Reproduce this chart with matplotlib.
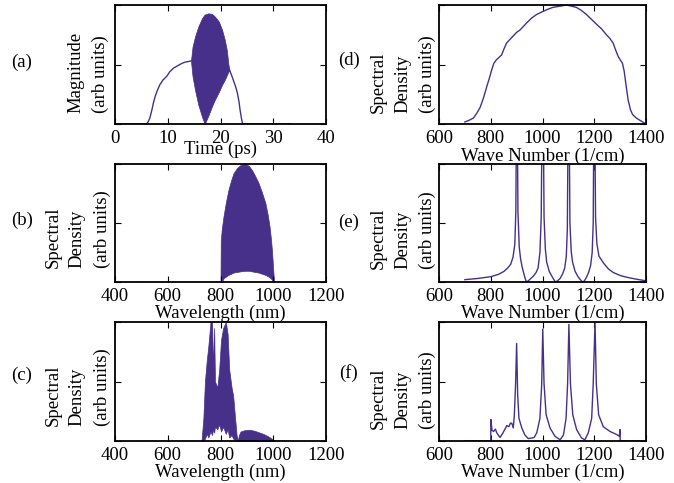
import numpy as np
import matplotlib
matplotlib.use("Agg")
from matplotlib import pyplot as plt

plt.rcParams['font.family'] = ['Liberation Serif', 'DejaVu Serif']
FS = 13.5
PURPLE = '#46308a'

# (a) temporal magnitude
a_t1 = [0, 6.0, 6.3, 6.6, 7.0, 7.3, 7.6, 8.0, 8.5, 9.1, 9.8, 10.4, 11.1, 11.9, 12.7, 13.3, 13.9, 14.4]
a_v1 = [0, 0, 0.02, 0.05, 0.12, 0.18, 0.23, 0.28, 0.33, 0.37, 0.40, 0.44, 0.47, 0.49, 0.51, 0.52, 0.525, 0.53]
a_tf = [14.4, 14.7, 15.2, 15.8, 16.5, 17.0, 17.7, 18.4, 19.0, 19.7, 20.3, 20.8, 21.2, 21.5, 21.7]
a_up = [0.53, 0.65, 0.74, 0.82, 0.89, 0.92, 0.93, 0.925, 0.90, 0.86, 0.79, 0.71, 0.62, 0.50, 0.455]
a_lo = [0.53, 0.40, 0.28, 0.16, 0.06, 0.0, 0.07, 0.15, 0.21, 0.27, 0.33, 0.37, 0.41, 0.44, 0.455]
a_t2 = [21.7, 22.1, 22.5, 22.9, 23.2, 23.5, 23.7, 24.0, 24.2, 33.3]
a_v2 = [0.455, 0.41, 0.36, 0.31, 0.26, 0.19, 0.12, 0.04, 0, 0]

# (b) input spectrum
b_base = [500, 1060]
b_wl = [800, 801, 805, 811, 820, 830, 840, 849, 862, 875, 894, 907, 919, 931, 944, 957, 970, 979, 986, 991, 995, 1000, 1003]
b_up = [0, 0.35, 0.45, 0.55, 0.67, 0.78, 0.86, 0.92, 0.965, 0.99, 1.0, 0.985, 0.95, 0.9, 0.84, 0.76, 0.67, 0.57, 0.47, 0.37, 0.27, 0.10, 0]
b_lo = [0, 0, 0, 0.03, 0.045, 0.06, 0.07, 0.08, 0.085, 0.09, 0.095, 0.095, 0.09, 0.085, 0.08, 0.07, 0.06, 0.05, 0.04, 0.03, 0.02, 0.0, 0]

# (c) output spectrum
c_base = [500, 1060]
c_wl = [728, 735, 741, 748, 754, 762, 768, 772, 776, 779, 788, 795, 802, 810, 820, 827, 833, 842, 848, 855, 861, 865]
c_up = [0, 0.19, 0.5, 0.68, 0.8, 1.0, 1.0, 0.6, 0.95, 0.5, 0.45, 0.6, 0.85, 0.95, 1.0, 0.9, 0.6, 0.45, 0.38, 0.2, 0.05, 0]
c_lo = [0, 0, 0.02, 0.06, 0.03, 0.08, 0.05, 0.1, 0.07, 0.12, 0.1, 0.14, 0.08, 0.12, 0.06, 0.1, 0.03, 0.05, 0.02, 0.01, 0, 0]
c_hwl = [865, 870, 876, 890, 911, 930, 962, 980, 994, 1006]
c_hv = [0, 0.05, 0.08, 0.09, 0.095, 0.085, 0.06, 0.04, 0.02, 0]

# (d) spectral density vs wave number
d_wn = [700, 715, 733, 746, 759, 772, 784, 794, 803, 812, 822, 832, 842, 851, 861, 874, 887, 900, 913,
        926, 939, 958, 977, 996, 1016, 1040, 1067, 1093, 1112, 1131, 1150, 1170, 1189, 1208, 1228,
        1247, 1260, 1273, 1283, 1292, 1300, 1309, 1316, 1322, 1331, 1340, 1348, 1360, 1370, 1385, 1400]
d_v = [0.017, 0.03, 0.05, 0.09, 0.14, 0.22, 0.31, 0.38, 0.45, 0.51, 0.54, 0.56, 0.58, 0.63, 0.68, 0.71, 0.74, 0.77, 0.79,
       0.82, 0.85, 0.89, 0.92, 0.94, 0.96, 0.98, 0.99, 1.0, 0.99, 0.98, 0.955, 0.92, 0.88, 0.84, 0.80,
       0.75, 0.72, 0.68, 0.62, 0.57, 0.54, 0.51, 0.44, 0.34, 0.2, 0.12, 0.08, 0.055, 0.04, 0.02, 0.0]

# (e) target Raman spectrum
e_wn = [700, 750, 800, 830, 851, 866, 877, 886, 893, 897, 901, 905, 910, 915, 922, 928, 933, 938,
        945, 955, 965, 975, 983, 990, 995, 1001, 1006, 1011, 1016, 1026, 1036, 1044, 1050,
        1058, 1068, 1078, 1086, 1092, 1096, 1101, 1106, 1111, 1116, 1126, 1136, 1146, 1155,
        1162, 1170, 1178, 1186, 1192, 1196, 1200, 1205, 1210, 1218, 1236, 1255, 1274, 1300,
        1326, 1360, 1400]
e_v = [0.02, 0.03, 0.045, 0.065, 0.09, 0.12, 0.15, 0.21, 0.32, 0.6, 2.0, 0.6, 0.3, 0.2, 0.12, 0.07, 0.03, 0.0,
       0.01, 0.03, 0.05, 0.08, 0.12, 0.25, 0.55, 2.0, 0.55, 0.28, 0.17, 0.09, 0.05, 0.02, 0.0,
       0.01, 0.03, 0.07, 0.12, 0.22, 0.45, 2.0, 0.5, 0.26, 0.17, 0.09, 0.05, 0.02, 0.0,
       0.01, 0.04, 0.08, 0.14, 0.25, 0.5, 2.0, 0.55, 0.33, 0.22, 0.16, 0.11, 0.08, 0.055,
       0.04, 0.025, 0.01]

# (f) retrieved Raman spectrum
f_wn = [700, 800, 800.5, 805, 811, 818, 823, 829, 836, 845, 855, 862, 870, 876, 881, 887, 891, 896,
        900, 904, 909, 920, 932, 945, 958, 968, 978, 990, 997, 1001, 1006, 1014, 1029, 1048,
        1068, 1081, 1091, 1097, 1102, 1108, 1117, 1132, 1151, 1164, 1177, 1190, 1196, 1203,
        1208, 1217, 1235, 1261, 1287, 1297, 1299.5, 1300.5, 1400]
f_v = [0, 0, 0.18, 0.09, 0.08, 0.1, 0.07, 0.05, 0.03, 0.06, 0.1, 0.13, 0.12, 0.15, 0.15, 0.11, 0.21, 0.48,
       0.82, 0.39, 0.19, 0.11, 0.05, 0.02, 0.025, 0.03, 0.07, 0.19, 0.48, 0.94, 0.48, 0.22, 0.11, 0.04,
       0.01, 0.05, 0.19, 0.48, 0.98, 0.48, 0.22, 0.095, 0.025, 0.01, 0.07, 0.19, 0.48, 1.0,
       0.48, 0.22, 0.12, 0.08, 0.054, 0.04, 0.096, 0, 0]

fig = plt.figure(figsize=(6.74, 4.83), dpi=100)

W, H = 674.0, 483.0
left_x = [115, 439]
widths = [211, 207]
rows = [(5, 124), (164, 282), (322, 441)]


def make_ax(col, row):
    top, bot = rows[row]
    ax = fig.add_axes([left_x[col] / W, 1 - bot / H, widths[col] / W, (bot - top) / H])
    ax.set_ylim(0, 1)
    ax.set_yticks([0, 0.5, 1])
    ax.set_yticklabels([])
    ax.tick_params(direction='in', length=4, width=0.8, top=True, right=True,
                   labelsize=FS, pad=4)
    for s in ax.spines.values():
        s.set_linewidth(1.3)
    return ax


def ylab(ax, text, x, y):
    ax.set_ylabel(text, fontsize=FS, multialignment='left', va='center', linespacing=1.55)
    ax.yaxis.set_label_coords(x, y)


def xlab(ax, text, below):
    ax.set_xlabel(text, fontsize=FS, va='center')
    h = ax.get_position().height * H
    ax.xaxis.set_label_coords(0.5, -below / h)


# (a)
ax = make_ax(0, 0)
ax.plot(a_t1, a_v1, color=PURPLE, lw=1)
ax.fill_between(a_tf, a_lo, a_up, color=PURPLE, lw=0.5)
ax.plot(a_t2, a_v2, color=PURPLE, lw=1)
ax.set_xlim(0, 40)
ax.set_xticks([0, 10, 20, 30, 40])
xlab(ax, 'Time (ps)', 25)
ylab(ax, 'Magnitude\n(arb units)', -0.125, 0.43)
fig.text(22 / W, 1 - 62 / H, '(a)', fontsize=FS, ha='center', va='center')

# (b)
ax = make_ax(0, 1)
ax.plot(b_base, [0, 0], color=PURPLE, lw=1)
ax.fill_between(b_wl, b_lo, b_up, color=PURPLE, lw=0.5)
ax.set_xlim(400, 1200)
ax.set_xticks([400, 600, 800, 1000, 1200])
xlab(ax, 'Wavelength (nm)', 31)
ylab(ax, 'Spectral\nDensity\n(arb units)', -0.177, 0.45)
fig.text(22 / W, 1 - 220 / H, '(b)', fontsize=FS, ha='center', va='center')

# (c)
ax = make_ax(0, 2)
ax.plot(c_base, [0, 0], color=PURPLE, lw=1)
ax.fill_between(c_wl, c_lo, c_up, color=PURPLE, lw=0.5)
ax.fill_between(c_hwl, 0, c_hv, color=PURPLE, lw=0.5)
ax.set_xlim(400, 1200)
ax.set_xticks([400, 600, 800, 1000, 1200])
xlab(ax, 'Wavelength (nm)', 31)
ylab(ax, 'Spectral\nDensity\n(arb units)', -0.177, 0.45)
fig.text(22 / W, 1 - 375 / H, '(c)', fontsize=FS, ha='center', va='center')

# (d)
ax = make_ax(1, 0)
ax.plot(d_wn, d_v, color=PURPLE, lw=1)
ax.set_xlim(600, 1400)
ax.set_xticks([600, 800, 1000, 1200, 1400])
xlab(ax, 'Wave Number (1/cm)', 32)
ylab(ax, 'Spectral\nDensity\n(arb units)', -0.174, 0.42)
fig.text(349 / W, 1 - 60 / H, '(d)', fontsize=FS, ha='center', va='center')

# (e)
ax = make_ax(1, 1)
ax.plot(e_wn, e_v, color=PURPLE, lw=1)
ax.set_xlim(600, 1400)
ax.set_xticks([600, 800, 1000, 1200, 1400])
xlab(ax, 'Wave Number (1/cm)', 31)
ylab(ax, 'Spectral\nDensity\n(arb units)', -0.174, 0.44)
fig.text(349 / W, 1 - 222 / H, '(e)', fontsize=FS, ha='center', va='center')

# (f)
ax = make_ax(1, 2)
ax.plot(f_wn, f_v, color=PURPLE, lw=1)
ax.set_xlim(600, 1400)
ax.set_xticks([600, 800, 1000, 1200, 1400])
xlab(ax, 'Wave Number (1/cm)', 31)
ylab(ax, 'Spectral\nDensity\n(arb units)', -0.174, 0.43)
fig.text(349 / W, 1 - 373 / H, '(f)', fontsize=FS, ha='center', va='center')

fig.savefig('out.png', dpi=100)
